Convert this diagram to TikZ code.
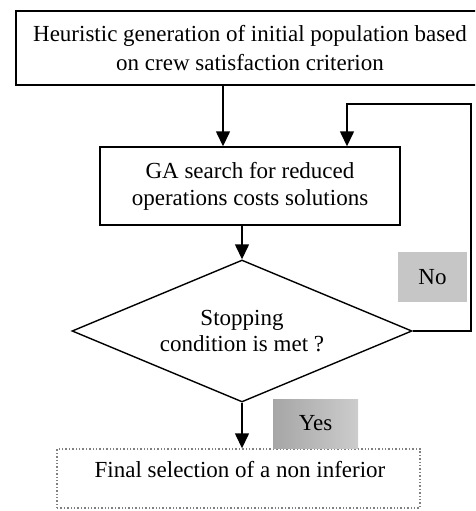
\documentclass[tikz,border=0pt]{standalone}
\usepackage{fontspec}
\setmainfont{Liberation Serif}
\usetikzlibrary{arrows.meta,shapes.geometric}
\tikzset{
  flowbox/.style={draw,line width=1.4pt,inner sep=0pt,align=center,
    font=\fontsize{23}{27}\selectfont},
  choice/.style={draw,line width=1.4pt,diamond,aspect=2.4,inner sep=0pt,align=center,
    minimum width=340pt,minimum height=142pt,font=\fontsize{23}{26}\selectfont},
  answer/.style={fill=gray!45,inner sep=0pt,font=\fontsize{23}{26}\selectfont},
  flow/.style={-{Triangle[width=14pt,length=15pt]},line width=1.4pt}
}
\begin{document}
\begin{tikzpicture}[x=1pt,y=-1pt]

      \clip (0,0) rectangle (475,511);
      \path (250,48) node [flowbox,font=\fontsize{23}{29}\selectfont,minimum width=468pt,minimum height=74pt](gen_init){Heuristic generation of initial population based\\on crew satisfaction criterion};
      \path (250,186) node [flowbox,minimum width=300pt,minimum height=78pt](ga_search){GA search for reduced\\operations costs solutions};
      \path (242,331) node [choice](stop_cond){Stopping\\condition is met ?};
      \path (238.5,478.5) node [flowbox,draw=gray,dotted,minimum width=363pt,minimum height=59pt](final_sel){};
      \path (240,470) node [font=\fontsize{23}{27}\selectfont](final_txt){Final selection of a non inferior};
      \path (432.5,277) node [answer,minimum width=69pt,minimum height=50pt](lbl_no){No};
      \path (315.5,423.5) node [answer,left color=gray!70,right color=gray!40,minimum width=85pt,minimum height=49pt](lbl_yes){Yes};
      \coordinate (loop_r) at (471,331);
      \coordinate (loop_t) at (347,104);
      \draw[flow] (gen_init.south -| 223,0) -- (ga_search.north -| 223,0);
      \draw[flow] (ga_search.south -| stop_cond.north) -- (stop_cond.north);
      \draw[flow] (stop_cond.south) -- (final_sel.north -| stop_cond.south);
      \draw[flow] (stop_cond.east) -- (loop_r) |- (loop_t) -- (ga_search.north -| loop_t);

    \end{tikzpicture}
\end{document}
